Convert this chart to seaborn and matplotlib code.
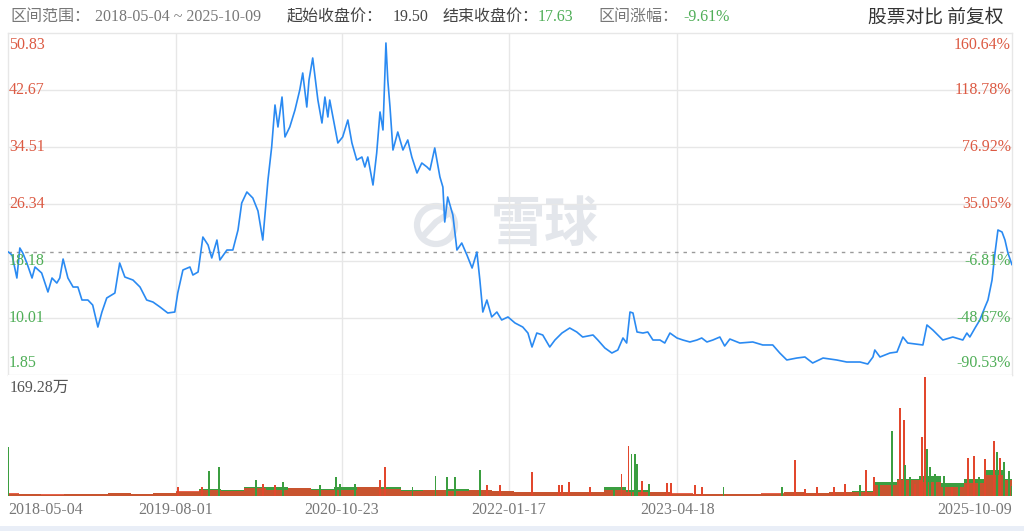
import numpy as np
import pandas as pd
import matplotlib
matplotlib.use('Agg')
import matplotlib.pyplot as plt
from matplotlib.patches import Ellipse, Rectangle
import seaborn as sns

sns.set_style('white')
plt.rcParams['font.family'] = ['Liberation Serif', 'Noto Sans CJK SC', 'DejaVu Sans']

# ---- 价格数据 (前复权收盘价, 从图上读取) ----
price_dates = [
    '2018-05-04', '2018-05-15', '2018-05-28', '2018-06-05', '2018-06-13', '2018-06-24', '2018-07-08',
    '2018-07-16', '2018-08-03', '2018-08-20', '2018-08-31', '2018-09-13', '2018-09-21', '2018-09-30',
    '2018-10-13', '2018-10-27', '2018-11-09', '2018-11-20', '2018-12-06', '2018-12-19',
    '2019-01-02', '2019-01-13', '2019-01-26', '2019-02-17', '2019-03-02', '2019-03-16', '2019-04-07',
    '2019-04-26', '2019-05-14', '2019-05-31', '2019-06-19', '2019-07-10', '2019-07-29', '2019-08-06',
    '2019-08-20', '2019-09-08', '2019-09-16', '2019-09-30', '2019-10-13', '2019-10-27', '2019-11-06',
    '2019-11-20', '2019-11-28', '2019-12-17',
    '2020-01-02', '2020-01-16', '2020-01-26', '2020-02-09', '2020-02-25', '2020-03-10', '2020-03-23',
    '2020-04-06', '2020-04-16', '2020-04-25', '2020-05-03', '2020-05-14', '2020-05-22', '2020-06-04',
    '2020-06-18', '2020-07-01', '2020-07-09', '2020-07-20', '2020-07-26', '2020-08-05', '2020-08-19',
    '2020-08-30', '2020-09-07', '2020-09-15', '2020-09-20', '2020-10-04', '2020-10-12', '2020-10-25',
    '2020-11-08', '2020-11-19', '2020-12-02', '2020-12-16', '2020-12-24',
    '2021-01-01', '2021-01-15', '2021-01-25', '2021-02-03', '2021-02-11', '2021-02-19', '2021-02-24',
    '2021-03-02', '2021-03-10', '2021-03-23', '2021-04-06', '2021-04-19', '2021-04-30', '2021-05-14',
    '2021-05-27', '2021-06-10', '2021-06-18', '2021-07-01', '2021-07-15', '2021-07-23', '2021-07-28',
    '2021-08-05', '2021-08-19', '2021-08-30', '2021-09-12', '2021-09-26', '2021-10-10', '2021-10-23',
    '2021-10-31', '2021-11-08', '2021-11-19', '2021-12-02', '2021-12-16', '2021-12-29',
    '2022-01-15', '2022-02-03', '2022-02-24', '2022-03-10', '2022-03-21', '2022-04-03', '2022-04-19',
    '2022-05-08', '2022-05-22', '2022-06-10', '2022-07-01', '2022-07-20', '2022-08-05', '2022-09-02',
    '2022-09-15', '2022-10-04', '2022-10-23', '2022-11-08', '2022-11-22', '2022-12-02', '2022-12-11',
    '2022-12-19', '2022-12-30',
    '2023-01-15', '2023-01-28', '2023-02-11', '2023-03-02', '2023-03-15', '2023-03-29', '2023-04-17',
    '2023-05-03', '2023-05-22', '2023-06-10', '2023-06-23', '2023-07-07', '2023-07-23', '2023-08-11',
    '2023-08-24', '2023-09-07', '2023-10-04', '2023-11-08', '2023-12-05',
    '2024-01-01', '2024-01-20', '2024-02-08', '2024-03-06', '2024-03-28', '2024-04-18', '2024-05-16',
    '2024-06-22', '2024-07-19', '2024-08-24', '2024-09-14', '2024-09-28', '2024-10-03', '2024-10-17',
    '2024-11-13', '2024-12-02', '2024-12-15', '2024-12-18', '2024-12-31',
    '2025-02-10', '2025-02-21', '2025-03-09', '2025-04-05', '2025-05-02', '2025-05-29', '2025-06-09',
    '2025-06-17', '2025-07-01', '2025-07-14', '2025-07-28', '2025-08-05', '2025-08-16', '2025-08-24',
    '2025-09-01', '2025-09-12', '2025-09-20', '2025-09-28', '2025-10-09',
]
prices = [
    19.50, 19.04, 15.74, 20.04, 19.32, 17.89, 15.74, 17.32, 16.46, 13.74, 15.74, 15.02, 15.74, 18.46,
    15.74, 14.45, 14.45, 12.59, 12.59, 11.87,
    8.72, 10.87, 12.88, 13.59, 17.89, 15.88, 15.45, 14.45, 12.59, 12.30, 11.59, 10.73, 10.87, 13.59,
    16.89, 17.32, 16.17, 16.60, 21.61, 20.47, 18.61, 21.18, 18.32, 19.75,
    19.75, 22.62, 26.48, 28.06, 27.20, 25.34, 21.18, 29.78, 34.50, 40.52, 37.37, 41.66, 35.94, 37.37,
    39.80, 42.67, 45.10, 40.23, 44.10, 47.25, 41.23, 37.94, 41.66, 38.80, 41.23, 37.37, 35.08, 35.94,
    38.37, 35.08, 32.64, 33.07, 31.64,
    33.07, 29.06, 33.64, 39.52, 36.94, 49.40, 44.10, 40.23, 34.07, 36.65, 34.07, 35.51, 33.07, 30.78,
    32.21, 31.64, 31.21, 34.36, 30.21, 28.77, 23.76, 27.34, 24.76, 19.75, 20.75, 19.04, 17.17, 19.46,
    15.45, 10.87, 12.59, 10.16, 10.87, 9.73,
    10.16, 9.30, 8.72, 7.86, 5.86, 7.86, 7.58, 5.86, 6.86, 7.86, 8.58, 8.01, 7.29, 7.58,
    6.86, 5.72, 5.00, 5.43, 7.15, 6.43, 10.87, 10.73, 8.01,
    7.86, 8.01, 6.86, 6.86, 6.43, 7.86, 7.15, 6.86, 6.58, 6.86, 7.15, 6.58, 6.86, 7.29,
    6.00, 7.00, 6.43, 6.58, 6.15,
    6.15, 5.00, 4.00, 4.28, 4.43, 3.57, 4.28, 4.00, 3.71, 3.71, 3.42, 4.43, 5.43, 4.43,
    5.00, 5.14, 6.86, 7.29, 6.43,
    6.15, 9.01, 8.29, 6.86, 7.29, 6.86, 7.86, 7.29, 8.58, 9.73, 11.59, 12.59, 15.45, 19.32,
    22.62, 22.33, 21.18, 19.32, 17.63,
]

# ---- 成交量 (万股): 底部密集部分按两个月取样, 另加单日放量 ----
base_dates = [
    '2018-05-04', '2018-07-01', '2018-09-01', '2018-11-01', '2019-01-01', '2019-03-01', '2019-05-01',
    '2019-07-01', '2019-09-01', '2019-11-01', '2020-01-01', '2020-03-01', '2020-05-01', '2020-07-01',
    '2020-09-01', '2020-11-01', '2021-01-01', '2021-03-01', '2021-05-01', '2021-07-01', '2021-09-01',
    '2021-11-01', '2022-01-01', '2022-03-01', '2022-05-01', '2022-07-01', '2022-09-01', '2022-11-01',
    '2023-01-01', '2023-03-01', '2023-05-01', '2023-07-01', '2023-09-01', '2023-11-01', '2024-01-01',
    '2024-03-01', '2024-05-01', '2024-07-01', '2024-09-01', '2024-11-01', '2025-01-01', '2025-03-01',
    '2025-05-01', '2025-07-01', '2025-09-01', '2025-10-09',
]
base_red = [3.5, 3, 2.5, 3, 2.5, 4, 3, 3.5, 7, 8, 7, 11, 9, 11, 8, 8, 13, 10, 7, 8, 7, 8, 7, 6,
            5, 5, 6, 8, 6, 5, 3.5, 2.5, 2.5, 2.5, 3.5, 6, 4.5, 5, 6, 16, 22, 20, 13, 18, 30, 22]
base_green = [3, 2.5, 2, 2.5, 3, 3.5, 3, 4, 6, 10, 9, 12, 13, 11, 10, 12, 12, 12, 9, 9, 10, 8, 7, 6,
              6, 6, 5, 13, 8, 5, 3, 3, 3, 3, 3, 5, 4, 5, 7, 20, 24, 28, 18, 24, 36, 24]

spike_dates = [
    '2018-05-04', '2019-08-06', '2019-10-11', '2019-10-30', '2019-11-26', '2020-03-05', '2020-03-23',
    '2020-04-25', '2020-05-17', '2020-08-24', '2020-10-07', '2020-10-18', '2020-11-27', '2021-02-03',
    '2021-02-16', '2021-05-02', '2021-07-03', '2021-08-02', '2021-08-24', '2021-10-31', '2021-11-19',
    '2021-12-24', '2022-03-21', '2022-06-02', '2022-06-10', '2022-06-29', '2022-08-24', '2022-10-28',
    '2022-11-18', '2022-12-07', '2022-12-15', '2022-12-24', '2022-12-30', '2023-01-12', '2023-01-31',
    '2023-03-21', '2023-04-01', '2023-06-05', '2023-06-24', '2023-08-21', '2024-01-25', '2024-03-01',
    '2024-03-29', '2024-04-30', '2024-06-15', '2024-07-14', '2024-08-24', '2024-09-09', '2024-10-01',
    '2024-10-14', '2024-11-18', '2024-12-10', '2024-12-21', '2024-12-23', '2025-01-06', '2025-01-20',
    '2025-02-02', '2025-02-08', '2025-02-16', '2025-02-21', '2025-03-01', '2025-03-15', '2025-04-08',
    '2025-04-29', '2025-05-19', '2025-06-12', '2025-06-28', '2025-07-12', '2025-07-28', '2025-08-21',
    '2025-08-29', '2025-09-07', '2025-09-17', '2025-10-01', '2025-10-09',
]
spike_vols = [
    68, 12, 12, 34.5, 40.6, 23, 17, 16, 19.6, 16, 26.6, 17, 17, 23,
    40.6, 12, 27.5, 26.6, 26.6, 35.9, 15, 15, 33.6, 15, 15, 19.6, 12.6, 12.6,
    31, 69.5, 59, 59, 45, 20.5, 17, 18.6, 18.6, 15, 12, 12, 12.6, 50.8,
    10, 12, 12, 17, 15, 35.9, 26.6, 15, 90.5, 123, 107, 43, 26.6, 17,
    22, 82.6, 167, 66, 40.6, 31, 27.5, 12.6, 13.5, 53, 55.5, 26.6, 52, 77,
    61.5, 53.7, 47.6, 34.5, 14,
]
spike_up = [
    0, 1, 1, 0, 0, 0, 1, 1, 0, 0, 0, 0, 0, 1,
    1, 0, 0, 0, 0, 0, 1, 1, 1, 1, 1, 1, 1, 0,
    1, 1, 0, 0, 0, 1, 0, 1, 1, 1, 1, 0, 0, 1,
    1, 1, 1, 1, 0, 1, 1, 0, 0, 1, 1, 0, 0, 1,
    1, 1, 1, 0, 0, 0, 0, 1, 0, 1, 1, 0, 1, 1,
    0, 1, 0, 0, 0,
]

start_price = 19.50
y_ticks = [50.83, 42.67, 34.51, 26.34, 18.18, 10.01, 1.85]
pct_labels = ['160.64%', '118.78%', '76.92%', '35.05%', '-6.81%', '-48.67%', '-90.53%']
date_ticks = ['2018-05-04', '2019-08-01', '2020-10-23', '2022-01-17', '2023-04-18', '2025-10-09']
vol_max = 169.28

RED = '#e2472d'
GREEN = '#3b9e40'
TXT_RED = '#dc5a43'
TXT_GREEN = '#4fae57'
BLUE = '#2a8af2'
GRID = '#e7e7e7'
WATERMARK = '#e3e6eb'

W, H = 1024, 531
fig = plt.figure(figsize=(W / 100, H / 100), dpi=100)
fig.patch.set_facecolor('white')
ax = fig.add_axes([8 / W, 1 - 375 / H, 1004 / W, 342 / H])
axv = fig.add_axes([8 / W, 1 - 496 / H, 1004 / W, 121 / H])

x0, x1 = pd.Timestamp('2018-05-04'), pd.Timestamp('2025-10-09')

# 价格线
df = pd.DataFrame({'date': pd.to_datetime(price_dates), 'price': prices})
sns.lineplot(data=df, x='date', y='price', ax=ax, color=BLUE, linewidth=1.2, zorder=5)
ax.set_xlim(x0, x1)
ax.set_ylim(y_ticks[-1], y_ticks[0])
ax.set_xlabel('')
ax.set_ylabel('')
ax.set_xticks([])
ax.set_yticks([])
for s in ax.spines.values():
    s.set_color(GRID)
    s.set_linewidth(1)

for v in y_ticks[1:-1]:
    ax.axhline(v, color=GRID, lw=1, zorder=1)
ax.axhline(start_price, color='#9a9a9a', lw=1, ls=(0, (2.5, 3.5)), zorder=2)

for d in date_ticks[1:-1]:
    ax.axvline(pd.Timestamp(d), color=GRID, lw=1, zorder=1)
    axv.axvline(pd.Timestamp(d), color=GRID, lw=1, zorder=1)

# 左右两侧刻度文字
ytrans = ax.get_yaxis_transform()
n = len(y_ticks)
for i, (v, p) in enumerate(zip(y_ticks, pct_labels)):
    c = TXT_RED if v > start_price else TXT_GREEN
    dy = -12 if i == 0 else (12 if i == n - 1 else 0)
    ax.annotate(f'{v:.2f}', xy=(0, v), xycoords=ytrans, xytext=(1, dy), textcoords='offset pixels',
                ha='left', va='center', color=c, fontsize=11.5, zorder=6)
    ax.annotate(p, xy=(1, v), xycoords=ytrans, xytext=(-1, dy), textcoords='offset pixels',
                ha='right', va='center', color=c, fontsize=11.5, zorder=6)

# 水印 (雪球)
ax.text(545 / W, 1 - 225 / H, '雪球', transform=fig.transFigure, ha='center', va='center',
        fontsize=39, fontweight='bold', color=WATERMARK, family=['Noto Sans CJK SC'], zorder=0.5)
ax.add_patch(Ellipse((436 / W, 1 - 225 / H), 38 / W, 38 / H, transform=fig.transFigure,
                     fill=False, ec=WATERMARK, lw=4.5, zorder=0.5))
ax.plot([424 / W, 436 / W, 448 / W], [1 - 235 / H, 1 - 222 / H, 1 - 214 / H],
        transform=fig.transFigure, color=WATERMARK, lw=4.5, solid_capstyle='round', zorder=0.5)

# 成交量
bdates = pd.to_datetime(base_dates)
axv.fill_between(bdates, base_green, step='mid', color=GREEN, lw=0, zorder=2)
axv.fill_between(bdates, base_red, step='mid', color=RED, lw=0, alpha=0.85, zorder=3)
sp = pd.DataFrame({'date': pd.to_datetime(spike_dates), 'vol': spike_vols, 'up': spike_up})
axv.bar(sp['date'], sp['vol'], width=5, color=[RED if u else GREEN for u in sp['up']],
        linewidth=0, zorder=4)
axv.set_xlim(x0, x1)
axv.set_ylim(0, vol_max)
axv.set_xticks([])
axv.set_yticks([])
for s in axv.spines.values():
    s.set_visible(False)
axv.text(2 / 1004, 1 - 13 / 121, f'{vol_max:.2f}万', transform=axv.transAxes, ha='left', va='center',
         fontsize=11.5, color='#555555')

# 日期标签
xtrans = axv.get_xaxis_transform()
for i, d in enumerate(date_ticks):
    ha = 'left' if i == 0 else ('right' if i == len(date_ticks) - 1 else 'center')
    axv.text(pd.Timestamp(d), -14 / 121, d, transform=xtrans, ha=ha, va='center',
             fontsize=11.5, color='#777777')

# 底部导航条
fig.add_artist(Rectangle((0, 0), 1, 5 / H, transform=fig.transFigure, color='#e9eef7', lw=0))

# 顶部信息栏
yh = 1 - 17 / H
header = [
    (10, '区间范围：', '#777777'),
    (95, '2018-05-04 ~ 2025-10-09', '#777777'),
    (287, '起始收盘价：', '#444444'),
    (393, '19.50', '#444444'),
    (443, '结束收盘价：', '#444444'),
    (538, '17.63', TXT_GREEN),
    (598, '区间涨幅：', '#777777'),
    (683, '-9.61%', TXT_GREEN),
]
for xp, t, c in header:
    fig.text(xp / W, yh, t, ha='left', va='center', fontsize=11.5, color=c)
fig.text(1003 / W, yh, '股票对比 前复权', ha='right', va='center', fontsize=13.5, color='#333333',
         family=['Noto Sans CJK SC'])

fig.savefig('out.png', dpi=100)
